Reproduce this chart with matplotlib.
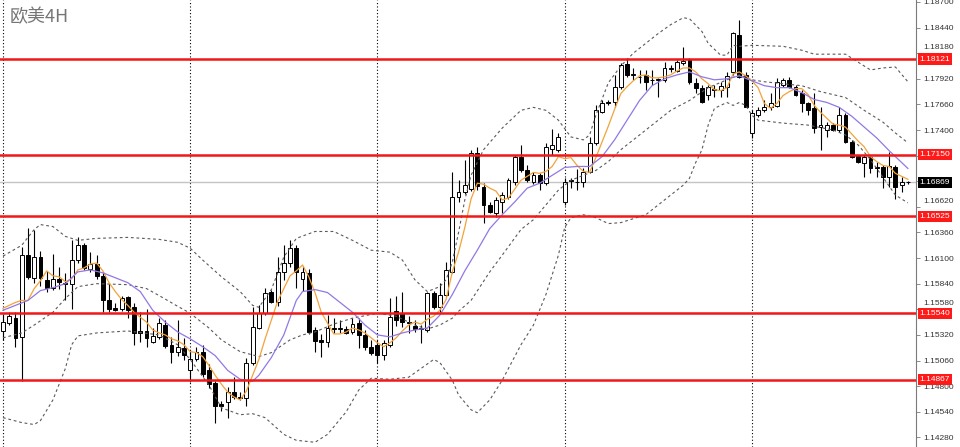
import matplotlib
matplotlib.use("Agg")
import numpy as np
import matplotlib.pyplot as plt
from matplotlib.ticker import FixedLocator, FuncFormatter
from matplotlib.transforms import offset_copy

# -------------------------
# Data (EURUSD, 4H candles)
# -------------------------

TITLE = "欧美4H"

opens = [
    1.1536, 1.1544, 1.1549, 1.1530, 1.1613, 1.1590, 1.1611, 1.1588, 1.1580, 1.1589,
    1.1585, 1.1584, 1.1608, 1.1623, 1.1599, 1.1604, 1.1592, 1.1567, 1.1559, 1.1558,
    1.1570, 1.1560, 1.1536, 1.1536, 1.1525, 1.1530, 1.1542, 1.1522, 1.1515, 1.1519,
    1.1496, 1.1508, 1.1515, 1.1496, 1.1483, 1.1462, 1.1464, 1.1474, 1.1469, 1.1468,
    1.1503, 1.1539, 1.1554, 1.1576, 1.1565, 1.1596, 1.1605, 1.1620, 1.1589, 1.1595,
    1.1537, 1.1527, 1.1525, 1.1539, 1.1538, 1.1538, 1.1535, 1.1544, 1.1532, 1.1520,
    1.1522, 1.1512, 1.1522, 1.1556, 1.1554, 1.1545, 1.1541, 1.1538, 1.1537, 1.1575,
    1.1560, 1.1573, 1.1596, 1.1672, 1.1677, 1.1680, 1.1717, 1.1682, 1.1664, 1.1656,
    1.1667, 1.1672, 1.1687, 1.1713, 1.1699, 1.1687, 1.1694, 1.1686, 1.1721, 1.1720,
    1.1667, 1.1689, 1.1687, 1.1687, 1.1697, 1.1727, 1.1758, 1.1768, 1.1768, 1.1784,
    1.1807, 1.1796, 1.1794, 1.1796, 1.1791, 1.1791, 1.1791, 1.1802, 1.1800, 1.1808,
    1.1811, 1.1788, 1.1783, 1.1776, 1.1782, 1.1781, 1.1784, 1.1799, 1.1836, 1.1796,
    1.1737, 1.1755, 1.1760, 1.1763, 1.1764, 1.1786, 1.1791, 1.1784, 1.1778, 1.1767,
    1.1762, 1.1743, 1.1740, 1.1745, 1.1740, 1.1755, 1.1728, 1.1714, 1.1707, 1.1713,
    1.1702, 1.1702, 1.1692, 1.1702, 1.1684, 1.16872,
]

highs = [
    1.1553, 1.1555, 1.1555, 1.1621, 1.1641, 1.1639, 1.1617, 1.1597, 1.1614, 1.1601,
    1.1595, 1.1628, 1.1631, 1.1625, 1.1616, 1.1613, 1.1596, 1.1585, 1.1564, 1.1572,
    1.1572, 1.1564, 1.1555, 1.1558, 1.1539, 1.1549, 1.1547, 1.1530, 1.1547, 1.1529,
    1.1517, 1.1520, 1.1522, 1.1502, 1.1485, 1.1465, 1.1479, 1.1489, 1.1474, 1.1509,
    1.1560, 1.1562, 1.1580, 1.1578, 1.1611, 1.1623, 1.1628, 1.1623, 1.1602, 1.1599,
    1.1540, 1.1533, 1.1552, 1.1549, 1.1547, 1.1541, 1.1549, 1.1549, 1.1537, 1.1527,
    1.1527, 1.1527, 1.1569, 1.1572, 1.1576, 1.1551, 1.1547, 1.1542, 1.1576, 1.1577,
    1.1585, 1.1606, 1.1697, 1.1689, 1.1710, 1.1720, 1.1723, 1.1686, 1.1667, 1.1672,
    1.1677, 1.1691, 1.1715, 1.1725, 1.1704, 1.1697, 1.1696, 1.1727, 1.1741, 1.1737,
    1.1691, 1.1691, 1.1700, 1.1701, 1.1733, 1.1765, 1.1770, 1.1770, 1.1796, 1.1808,
    1.1813, 1.1803, 1.1801, 1.1801, 1.1801, 1.1793, 1.1809, 1.1806, 1.1811, 1.1824,
    1.1813, 1.1793, 1.1786, 1.1786, 1.1786, 1.1789, 1.1799, 1.1840, 1.1852, 1.1799,
    1.1760, 1.1763, 1.1770, 1.1778, 1.1793, 1.1793, 1.1794, 1.1786, 1.1781, 1.1768,
    1.1778, 1.1763, 1.1748, 1.1747, 1.1763, 1.1757, 1.1730, 1.1715, 1.1715, 1.1715,
    1.1708, 1.1704, 1.1718, 1.1704, 1.1692, 1.16880,
]

lows = [
    1.1527, 1.1542, 1.1520, 1.1485, 1.1589, 1.1585, 1.1582, 1.1576, 1.1578, 1.1579,
    1.1567, 1.1558, 1.1605, 1.1598, 1.1596, 1.1589, 1.1555, 1.1555, 1.1556, 1.1556,
    1.1549, 1.1522, 1.1525, 1.1520, 1.1524, 1.1528, 1.1519, 1.1503, 1.1511, 1.1507,
    1.1484, 1.1506, 1.1489, 1.1478, 1.1443, 1.1455, 1.1448, 1.1467, 1.1466, 1.1460,
    1.1501, 1.1538, 1.1552, 1.1564, 1.1561, 1.1588, 1.1601, 1.1580, 1.1577, 1.1533,
    1.1515, 1.1510, 1.1520, 1.1534, 1.1534, 1.1533, 1.1533, 1.1519, 1.1517, 1.1512,
    1.1503, 1.1507, 1.1520, 1.1541, 1.1540, 1.1534, 1.1535, 1.1524, 1.1535, 1.1558,
    1.1555, 1.1570, 1.1595, 1.1667, 1.1675, 1.1678, 1.1679, 1.1646, 1.1656, 1.1652,
    1.1656, 1.1670, 1.1684, 1.1697, 1.1687, 1.1685, 1.1679, 1.1684, 1.1715, 1.1718,
    1.1664, 1.1681, 1.1679, 1.1682, 1.1696, 1.1725, 1.1757, 1.1765, 1.1763, 1.1782,
    1.1794, 1.1791, 1.1788, 1.1781, 1.1786, 1.1774, 1.1789, 1.1799, 1.1799, 1.1806,
    1.1787, 1.1778, 1.1767, 1.1770, 1.1774, 1.1774, 1.1774, 1.1796, 1.1793, 1.1763,
    1.1732, 1.1753, 1.1758, 1.1760, 1.1763, 1.1784, 1.1783, 1.1775, 1.1758, 1.1755,
    1.1737, 1.1720, 1.1733, 1.1739, 1.1738, 1.1727, 1.1712, 1.1707, 1.1692, 1.1696,
    1.1692, 1.1681, 1.1682, 1.1670, 1.1677, 1.16850,
]

closes = [
    1.1545, 1.1551, 1.1529, 1.1613, 1.1591, 1.1611, 1.1590, 1.1580, 1.1589, 1.1586,
    1.1584, 1.1608, 1.1623, 1.1600, 1.1604, 1.1592, 1.1567, 1.1558, 1.1557, 1.1569,
    1.1557, 1.1534, 1.1534, 1.1529, 1.1531, 1.1544, 1.1521, 1.1515, 1.1520, 1.1512,
    1.1508, 1.1515, 1.1492, 1.1482, 1.1460, 1.1460, 1.1474, 1.1469, 1.1468, 1.1503,
    1.1540, 1.1554, 1.1575, 1.1565, 1.1596, 1.1605, 1.1620, 1.1596, 1.1596, 1.1535,
    1.1526, 1.1525, 1.1539, 1.1538, 1.1539, 1.1534, 1.1543, 1.1532, 1.1520, 1.1514,
    1.1512, 1.1524, 1.1550, 1.1547, 1.1545, 1.1544, 1.1538, 1.1539, 1.1575, 1.1560,
    1.1573, 1.1598, 1.1672, 1.1677, 1.1684, 1.1717, 1.1683, 1.1664, 1.1657, 1.1669,
    1.1674, 1.1689, 1.1713, 1.1699, 1.1689, 1.1694, 1.1686, 1.1723, 1.1725, 1.1733,
    1.1687, 1.1688, 1.1687, 1.1697, 1.1727, 1.1760, 1.1767, 1.1767, 1.1784, 1.1806,
    1.1796, 1.1797, 1.1794, 1.1789, 1.1791, 1.1792, 1.1803, 1.1803, 1.1809, 1.1810,
    1.1789, 1.1783, 1.1768, 1.1784, 1.1781, 1.1785, 1.1795, 1.1838, 1.1794, 1.1763,
    1.1757, 1.1760, 1.1763, 1.1767, 1.1789, 1.1791, 1.1784, 1.1776, 1.1767, 1.1760,
    1.1742, 1.1745, 1.1745, 1.1740, 1.1755, 1.1728, 1.1713, 1.1708, 1.1713, 1.1701,
    1.1701, 1.1692, 1.1703, 1.1682, 1.1687, 1.16869,
]

# Bollinger bands at these candle numbers
upper_idx = [
    0, 3, 5, 6, 8, 10, 12, 15, 20, 25, 28, 30, 32, 35, 38, 40, 41, 43, 45, 47,
    50, 53, 56, 59, 62, 64, 66, 68, 70, 71, 72, 73, 74, 75, 77, 80, 83, 85, 87, 89,
    91, 93, 94, 95, 97, 99, 101, 103, 105, 107, 109, 110, 112, 113, 115, 116, 117, 118, 120, 125,
    128, 130, 135, 137, 139, 141, 143, 145,
]
upper_band = [
    1.1612, 1.1623, 1.1639, 1.1644, 1.1642, 1.1632, 1.1628, 1.1630, 1.1631, 1.1629,
    1.1626, 1.1620, 1.1608, 1.1591, 1.1576, 1.1562, 1.1560, 1.1578, 1.1611, 1.1630,
    1.1637, 1.1637, 1.1628, 1.1618, 1.1616, 1.1608, 1.1588, 1.1576, 1.1581, 1.1588,
    1.1606, 1.1636, 1.1669, 1.1694, 1.1720, 1.1742, 1.1760, 1.1763, 1.1760, 1.1750,
    1.1733, 1.1730, 1.1735, 1.1755, 1.1788, 1.1805, 1.1818, 1.1828, 1.1838, 1.1847,
    1.1854, 1.1853, 1.1840, 1.1828, 1.1816, 1.1816, 1.1826, 1.1825, 1.1826, 1.1825,
    1.1821, 1.1817, 1.1817, 1.1809, 1.1801, 1.1803, 1.1804, 1.1789,
]

middle_idx = [
    0, 3, 5, 8, 10, 12, 15, 20, 23, 25, 28, 30, 33, 35, 38, 41, 43, 46, 48, 50,
    53, 56, 60, 63, 66, 68, 70, 72, 73, 75, 78, 80, 83, 85, 87, 89, 91, 93, 95, 97,
    99, 101, 103, 105, 107, 110, 113, 116, 118, 120, 122, 125, 128, 131, 135, 138, 141, 143, 145,
]
middle_band = [
    1.1529, 1.1534, 1.1542, 1.1555, 1.1569, 1.1581, 1.1584, 1.1583, 1.1579, 1.1572,
    1.1561, 1.1554, 1.1539, 1.1527, 1.1515, 1.1510, 1.1514, 1.1527, 1.1532, 1.1535,
    1.1543, 1.1549, 1.1554, 1.1551, 1.1542, 1.1538, 1.1542, 1.1549, 1.1556, 1.1567,
    1.1596, 1.1613, 1.1639, 1.1649, 1.1664, 1.1679, 1.1689, 1.1694, 1.1699, 1.1708,
    1.1720, 1.1730, 1.1740, 1.1750, 1.1760, 1.1770, 1.1783, 1.1791, 1.1796, 1.1791,
    1.1789, 1.1787, 1.1785, 1.1779, 1.1773, 1.1760, 1.1748, 1.1737, 1.1727,
]

lower_idx = [
    0, 3, 5, 6, 8, 10, 11, 12, 15, 20, 25, 28, 30, 33, 35, 38, 40, 42, 45, 47,
    50, 52, 55, 57, 59, 62, 65, 67, 69, 70, 72, 73, 75, 76, 78, 80, 83, 85, 87, 89,
    90, 91, 93, 95, 97, 99, 101, 103, 105, 107, 109, 110, 111, 112, 113, 114, 116, 117, 118, 119,
    120, 121, 125, 129, 133, 135, 137, 139, 141, 143, 145,
]
lower_band = [
    1.1448, 1.1443, 1.1441, 1.1445, 1.1466, 1.1498, 1.1522, 1.1531, 1.1534, 1.1536,
    1.1532, 1.1522, 1.1507, 1.1481, 1.1458, 1.1451, 1.1452, 1.1448, 1.1431, 1.1425,
    1.1423, 1.1431, 1.1454, 1.1476, 1.1488, 1.1487, 1.1489, 1.1498, 1.1507, 1.1504,
    1.1486, 1.1471, 1.1456, 1.1453, 1.1466, 1.1486, 1.1522, 1.1542, 1.1573, 1.1613,
    1.1641, 1.1651, 1.1654, 1.1651, 1.1645, 1.1646, 1.1650, 1.1654, 1.1664, 1.1674,
    1.1684, 1.1691, 1.1707, 1.1720, 1.1745, 1.1762, 1.1768, 1.1765, 1.1768, 1.1765,
    1.1755, 1.1750, 1.1747, 1.1745, 1.1740, 1.1735, 1.1725, 1.1710, 1.1692, 1.1674,
    1.1666,
]

# fast (orange) moving average, one value per candle
fast_ma = [
    1.1559, 1.1562, 1.1565, 1.1567, 1.1567, 1.1579, 1.1587, 1.1597, 1.1592, 1.1591,
    1.1586, 1.1589, 1.1598, 1.1600, 1.1604, 1.1605, 1.1597, 1.1585, 1.1576, 1.1568,
    1.1562, 1.1555, 1.1550, 1.1545, 1.1537, 1.1534, 1.1532, 1.1528, 1.1526, 1.1522,
    1.1515, 1.1514, 1.1510, 1.1501, 1.1491, 1.1482, 1.1474, 1.1469, 1.1466, 1.1475,
    1.1491, 1.1507, 1.1528, 1.1547, 1.1566, 1.1579, 1.1592, 1.1597, 1.1603, 1.1591,
    1.1575, 1.1555, 1.1544, 1.1533, 1.1533, 1.1535, 1.1539, 1.1537, 1.1534, 1.1529,
    1.1524, 1.1520, 1.1524, 1.1529, 1.1536, 1.1542, 1.1545, 1.1543, 1.1548, 1.1551,
    1.1557, 1.1568, 1.1596, 1.1616, 1.1641, 1.1670, 1.1686, 1.1685, 1.1681, 1.1678,
    1.1669, 1.1671, 1.1680, 1.1689, 1.1693, 1.1697, 1.1696, 1.1698, 1.1703, 1.1713,
    1.1711, 1.1712, 1.1704, 1.1698, 1.1697, 1.1712, 1.1728, 1.1744, 1.1761, 1.1777,
    1.1784, 1.1790, 1.1795, 1.1796, 1.1793, 1.1793, 1.1794, 1.1796, 1.1800, 1.1803,
    1.1803, 1.1799, 1.1792, 1.1787, 1.1781, 1.1780, 1.1783, 1.1797, 1.1799, 1.1795,
    1.1790, 1.1783, 1.1767, 1.1762, 1.1767, 1.1775, 1.1779, 1.1782, 1.1782, 1.1776,
    1.1765, 1.1758, 1.1752, 1.1746, 1.1745, 1.1743, 1.1736, 1.1729, 1.1723, 1.1713,
    1.1708, 1.1704, 1.1703, 1.1696, 1.1693, 1.1690,
]

# slow (purple) moving average
slow_idx = list(range(0, 41, 2)) + [41, 43, 45, 47] + list(range(48, 145, 2)) + [145]
slow_ma = [
    1.1557, 1.1562, 1.1567, 1.1577, 1.1580, 1.1584, 1.1596, 1.1598, 1.1595, 1.1590,
    1.1585, 1.1576, 1.1557, 1.1545, 1.1535, 1.1528, 1.1520, 1.1511, 1.1496, 1.1487,
    1.1485,
    1.1491, 1.1509, 1.1532, 1.1567,
    1.1576, 1.1578, 1.1575, 1.1565, 1.1555, 1.1542, 1.1532, 1.1530, 1.1534, 1.1537,
    1.1539, 1.1552, 1.1573, 1.1597, 1.1618, 1.1640, 1.1654, 1.1667, 1.1681, 1.1686,
    1.1694, 1.1702, 1.1703, 1.1703, 1.1713, 1.1730, 1.1750, 1.1770, 1.1785, 1.1792,
    1.1796, 1.1799, 1.1794, 1.1791, 1.1792, 1.1795, 1.1790, 1.1785, 1.1783, 1.1783,
    1.1778, 1.1771, 1.1768, 1.1763, 1.1754, 1.1743, 1.1732, 1.1719, 1.1707,
    1.1701,
]

levels = [1.18121, 1.17150, 1.16525, 1.15540, 1.14867]
last_price = 1.16869
separators = [0, 30, 60, 90, 120]
price_ticks = [
    1.14280, 1.14540, 1.14800, 1.15060, 1.15320, 1.15580, 1.15840, 1.16100, 1.16360,
    1.16620, 1.16880, 1.17140, 1.17400, 1.17660, 1.17920, 1.18180, 1.18440, 1.18700,
]
# tick labels fully covered by a price box in the terminal
hidden_ticks = [1.16880, 1.17140]
# tick labels that the terminal pushes up above a price box
lifted_ticks = [1.18180, 1.15580, 1.16620]


def _is_in(value, values):
    return any(abs(value - v) < 1e-6 for v in values)


def tick_text(value, pos):
    if _is_in(value, hidden_ticks) or _is_in(value, lifted_ticks):
        return ""
    return f"{value:.5f}"


def plot_chart():
    o = np.asarray(opens)
    h = np.asarray(highs)
    l = np.asarray(lows)
    c = np.asarray(closes)
    x = np.arange(len(o))

    fig = plt.figure(figsize=(9.6, 4.47), dpi=100)
    ax = fig.add_axes([0, 0, 916 / 960, 1])
    ax.set_xlim(-0.48, 146.3)
    ax.set_ylim(1.14182, 1.18720)

    # -------------------------
    # Period separators, levels
    # -------------------------
    for s in separators:
        ax.axvline(s, color="black", linestyle=(0, (1, 2)), linewidth=0.8, zorder=1)

    ax.axhline(last_price, color="#c4c4c4", linewidth=1.0, zorder=1)

    for lvl in levels:
        ax.axhline(lvl, color="#f01818", linewidth=1.8, zorder=5)

    # -------------------------
    # Candles
    # -------------------------
    ax.vlines(x, l, h, color="black", linewidth=0.8, zorder=2)

    up = c >= o
    bottom = np.minimum(o, c)
    height = np.abs(c - o)
    ax.bar(x[up], height[up], bottom=bottom[up], width=0.62,
           color="white", edgecolor="black", linewidth=0.7, zorder=3)
    ax.bar(x[~up], height[~up], bottom=bottom[~up], width=0.62,
           color="black", edgecolor="black", linewidth=0.7, zorder=3)

    # -------------------------
    # Indicators
    # -------------------------
    band_style = dict(color="#5a5a5a", linestyle=(0, (2.5, 2.5)), linewidth=0.8, zorder=4)
    ax.plot(upper_idx, upper_band, **band_style)
    ax.plot(middle_idx, middle_band, **band_style)
    ax.plot(lower_idx, lower_band, **band_style)

    ax.plot(x, fast_ma, color="#f3a23a", linewidth=0.9, zorder=4)
    ax.plot(slow_idx, slow_ma, color="#9278e4", linewidth=0.9, zorder=4)

    # -------------------------
    # Price axis
    # -------------------------
    for side in ("left", "top", "bottom"):
        ax.spines[side].set_visible(False)
    ax.spines["right"].set_color("#7a7a7a")
    ax.spines["right"].set_linewidth(0.8)

    ax.set_xticks([])
    ax.yaxis.tick_right()
    ax.yaxis.set_major_locator(FixedLocator(price_ticks))
    ax.yaxis.set_major_formatter(FuncFormatter(tick_text))
    ax.tick_params(axis="y", length=3, width=0.6, pad=2, labelsize=6,
                   colors="#7a7a7a", labelcolor="#333333")
    for lab in ax.get_yticklabels():
        lab.set_family("Liberation Sans")

    lifted = offset_copy(ax.get_yaxis_transform(), fig=fig, x=5, y=4.2, units="points")
    for val in lifted_ticks:
        ax.text(1.0, val, f"{val:.5f}", transform=lifted, ha="left", va="center",
                fontsize=6, family="Liberation Sans", color="#333333", clip_on=False)

    box_kw = dict(transform=ax.get_yaxis_transform(), ha="left", va="center",
                  fontsize=6, family="Liberation Sans", color="white",
                  clip_on=False, zorder=10)
    for lvl in levels:
        ax.text(1.004, lvl, f"{lvl:.5f}",
                bbox=dict(boxstyle="square,pad=0.25", fc="#ff1a1a", ec="none"),
                **box_kw)
    ax.text(1.004, last_price, f"{last_price:.5f}",
            bbox=dict(boxstyle="square,pad=0.25", fc="black", ec="none"),
            **box_kw)

    fig.text(10 / 960, 1 - 17 / 447, TITLE, fontsize=13, color="#757575",
             va="center", ha="left", family=["Noto Sans CJK SC", "DejaVu Sans"])

    fig.savefig("out.png", dpi=100)


plot_chart()
